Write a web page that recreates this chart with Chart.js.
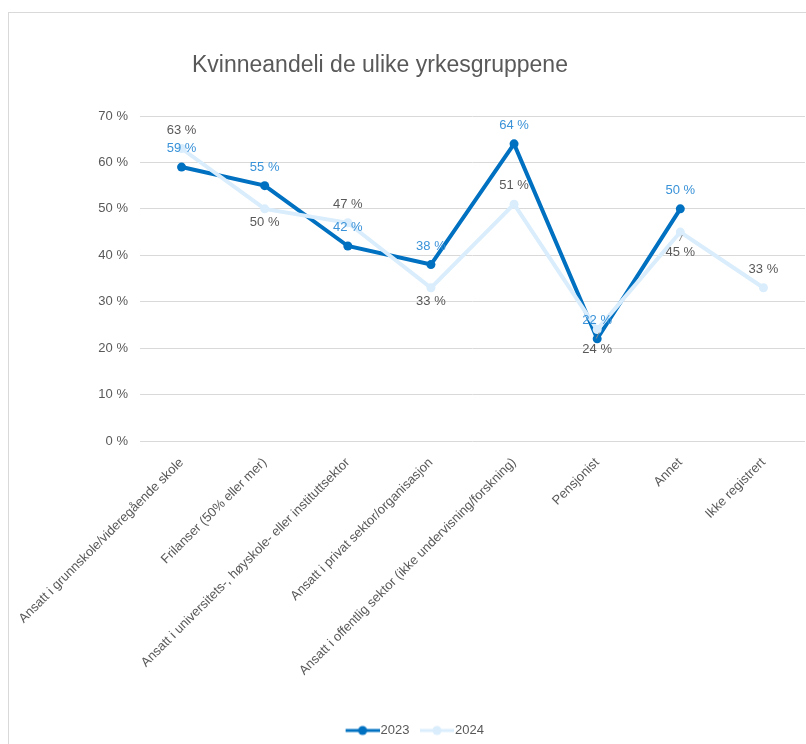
<!DOCTYPE html>
<html><head><meta charset="utf-8">
<script src="https://cdn.jsdelivr.net/npm/chart.js@4.4.1/dist/chart.umd.min.js"></script>
<style>
html,body{margin:0;padding:0;background:#fff;overflow:hidden;width:806px;height:744px;}
#frame{position:absolute;left:8px;top:12px;width:1000px;height:1000px;border:1px solid #d9d9d9;}
#c{position:absolute;left:0;top:0;}
</style></head><body>
<div id="frame"></div>
<canvas id="c" width="806" height="744"></canvas>
<script>
const chartTitle = 'Kvinneandeli de ulike yrkesgruppene';
const categories = [
  'Ansatt i grunnskole/videregående skole',
  'Frilanser (50% eller mer)',
  'Ansatt i universitets-, høyskole- eller instituttsektor',
  'Ansatt i privat sektor/organisasjon',
  'Ansatt i offentlig sektor (ikke undervisning/forskning)',
  'Pensjonist',
  'Annet',
  'Ikke registrert'
];
const seriesNames = ['2023', '2024'];
const values2023 = [59, 55, 42, 38, 64, 22, 50, null];
const values2024 = [63, 50, 47, 33, 51, 24, 45, 33];
const yTickValues = [0, 10, 20, 30, 40, 50, 60, 70];

// label placement config (styling, not data)
const placement = [
  ['above','above','above','above','above','above','above','above'],
  ['above','below','above','below','above','leader','leader','above']
];
const FONT = '"Liberation Sans", Arial, sans-serif';
const TEXT = '#595959';
const C2023 = '#0070C0';
const C2024 = '#d9edfc';
const labelColors = ['#3a92d8', TEXT];

function legendImg(color){
  const cv = document.createElement('canvas');
  cv.width = 44; cv.height = 12;
  const g = cv.getContext('2d');
  g.strokeStyle = color; g.lineWidth = 3; g.lineCap = 'butt';
  g.beginPath(); g.moveTo(10,6); g.lineTo(44,6); g.stroke();
  g.fillStyle = color; g.beginPath(); g.arc(27,6,4.5,0,Math.PI*2); g.fill();
  return cv;
}
const legendImgs = [legendImg(C2023), legendImg(C2024)];

const titlePlugin = {
  id: 'customTitle',
  afterDraw(chart){
    const ctx = chart.ctx;
    ctx.save();
    ctx.font = '23px ' + FONT;
    ctx.fillStyle = TEXT;
    ctx.textAlign = 'left';
    ctx.textBaseline = 'alphabetic';
    ctx.fillText(chartTitle, 192, 72);
    ctx.restore();
  }
};

const labelPlugin = {
  id: 'pointLabels',
  afterDatasetsDraw(chart){
    const ctx = chart.ctx;
    ctx.save();
    ctx.font = '13px ' + FONT;
    ctx.textAlign = 'center';
    ctx.textBaseline = 'middle';
    chart.data.datasets.forEach((ds, i) => {
      const meta = chart.getDatasetMeta(i);
      meta.data.forEach((pt, j) => {
        const v = ds.data[j];
        if (v === null || v === undefined) return;
        const p = placement[i][j];
        let dy = p === 'above' ? -18.5 : (p === 'leader' ? 20 : 14);
        ctx.fillStyle = labelColors[i];
        ctx.fillText(v + ' %', pt.x, pt.y + dy);
        if (p === 'leader') {
          ctx.strokeStyle = '#8c8c8c';
          ctx.lineWidth = 1;
          ctx.beginPath();
          ctx.moveTo(pt.x + 2, pt.y + 3);
          ctx.lineTo(pt.x - 1, pt.y + 9);
          ctx.stroke();
        }
      });
    });
    ctx.restore();
  }
};

new Chart(document.getElementById('c'), {
  type: 'line',
  data: {
    labels: categories,
    datasets: [
      {
        label: seriesNames[0], data: values2023, order: 1,
        borderColor: C2023, backgroundColor: C2023, borderWidth: 4,
        pointRadius: 4.5, pointBorderWidth: 0, pointBackgroundColor: C2023,
        pointStyle: 'circle', spanGaps: false
      },
      {
        label: seriesNames[1], data: values2024, order: 0,
        borderColor: C2024, backgroundColor: C2024, borderWidth: 4,
        pointRadius: 4.5, pointBorderWidth: 0, pointBackgroundColor: C2024,
        pointStyle: 'circle'
      }
    ]
  },
  options: {
    responsive: false,
    animation: false,
    events: [],
    layout: { autoPadding: false, padding: { top: 116, left: 20, right: 1, bottom: -3 } },
    scales: {
      x: {
        type: 'category',
        offset: true,
        grid: { display: false },
        border: { display: false },
        ticks: {
          autoSkip: false, minRotation: 45, maxRotation: 45,
          color: TEXT, font: { family: FONT, size: 13 }, padding: 6
        },
        afterFit(scale){ scale.height = 277; scale.paddingRight = 0; }
      },
      y: {
        min: 0, max: 70,
        afterBuildTicks(scale){ scale.ticks = yTickValues.map(v => ({ value: v })); },
        grid: { color: '#d9d9d9', lineWidth: 1, drawTicks: false },
        border: { display: false },
        ticks: {
          color: TEXT, font: { family: FONT, size: 13 }, padding: 12,
          callback: v => v + ' %'
        },
        afterFit(scale){ scale.width = 120; }
      }
    },
    plugins: {
      title: { display: false },
      tooltip: { enabled: false },
      legend: {
        position: 'bottom',
        labels: {
          usePointStyle: true,
          pointStyleWidth: 33,
          padding: 6,
          color: TEXT,
          font: { family: FONT, size: 13 },
          sort: (a, b) => a.datasetIndex - b.datasetIndex,
          generateLabels(chart){
            return chart.data.datasets.map((ds, i) => ({
              text: ds.label, datasetIndex: i, pointStyle: legendImgs[i],
              fillStyle: ds.borderColor, strokeStyle: ds.borderColor,
              lineWidth: 0, hidden: false, fontColor: TEXT
            }));
          }
        }
      }
    }
  },
  plugins: [titlePlugin, labelPlugin]
});
</script>
</body></html>
